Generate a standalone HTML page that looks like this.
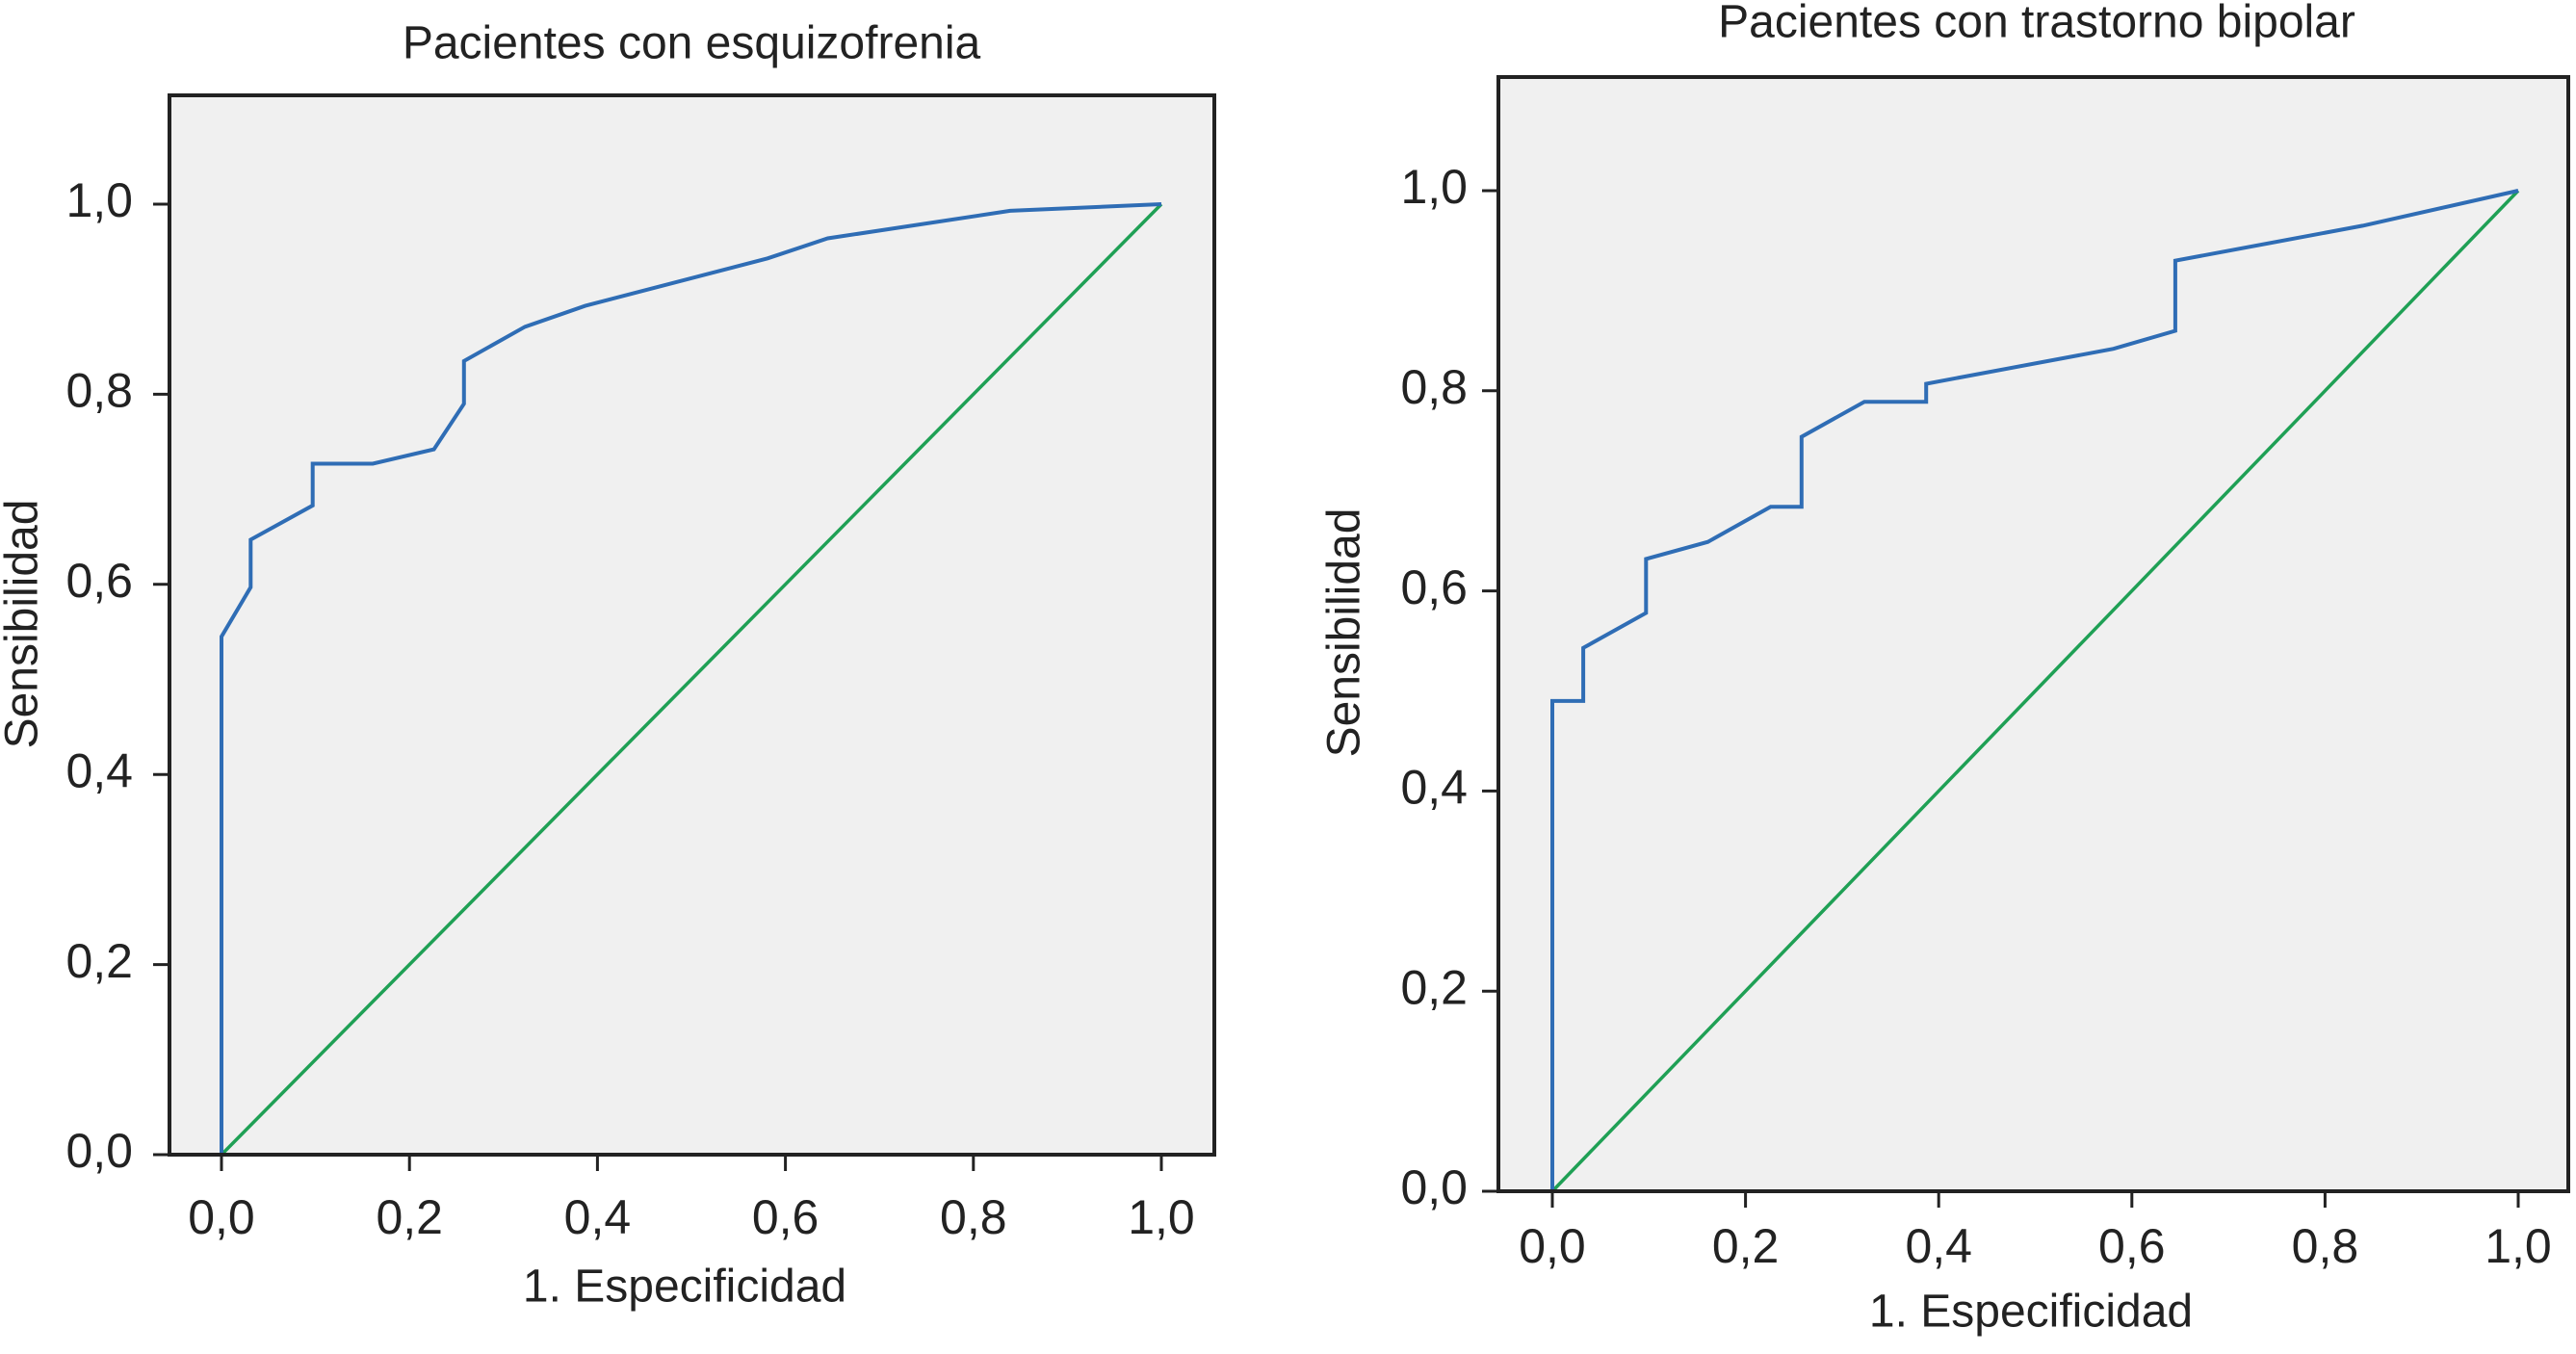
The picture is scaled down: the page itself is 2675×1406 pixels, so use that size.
<!DOCTYPE html>
<html><head><meta charset="utf-8"><style>
html,body{margin:0;padding:0;background:#fff;}
svg{display:block;font-family:"Liberation Sans",Arial,sans-serif;}
</style></head><body>
<svg id="svg" width="2675" height="1406" viewBox="0 0 2675 1406" xmlns="http://www.w3.org/2000/svg"></svg>
<script>
const ticks = [0, 0.2, 0.4, 0.6, 0.8, 1.0];
const tickLabels = ["0,0", "0,2", "0,4", "0,6", "0,8", "1,0"];
const schizoFPR = [0, 0, 0.031, 0.031, 0.097, 0.097, 0.161, 0.226, 0.258, 0.258, 0.323, 0.387, 0.581, 0.645, 0.839, 1];
const schizoTPR = [0, 0.545, 0.597, 0.647, 0.683, 0.727, 0.727, 0.742, 0.79, 0.835, 0.871, 0.893, 0.943, 0.964, 0.993, 1];
const bipolarFPR = [0, 0, 0.032, 0.032, 0.097, 0.097, 0.161, 0.226, 0.258, 0.258, 0.323, 0.387, 0.387, 0.581, 0.645, 0.645, 0.839, 1];
const bipolarTPR = [0, 0.49, 0.49, 0.543, 0.578, 0.632, 0.649, 0.684, 0.684, 0.754, 0.789, 0.789, 0.807, 0.842, 0.86, 0.93, 0.965, 1];
const refLine = [0, 1];

const NS = "http://www.w3.org/2000/svg";
const svg = document.getElementById('svg');
function mk(tag, attrs, parent) {
  const e = document.createElementNS(NS, tag);
  for (const k in attrs) e.setAttribute(k, attrs[k]);
  (parent || svg).appendChild(e);
  return e;
}
function panel(p) {
  const g = mk('g', {});
  
  
  const sx = v => p.x0 + v * (p.x1 - p.x0);
  const sy = v => p.y0 - v * (p.y0 - p.y1);
  const bg = mk('rect', {x: p.bx0, y: p.by0, width: p.bx1 - p.bx0, height: p.by1 - p.by0, fill: '#f0f0f0', stroke: 'none'}, g);
  
  
  const t = mk('text', {x: p.tx, y: p.ty, 'font-size': 48, 'text-anchor': 'middle', 'dominant-baseline': 'middle', fill: '#222'}, g);
  t.textContent = p.title;
  
  
  const ref = mk('line', {x1: sx(refLine[0]), y1: sy(refLine[0]), x2: sx(refLine[1]), y2: sy(refLine[1]), stroke: '#1fa055', 'stroke-width': 3.5}, g);
  
  
  const pts = p.fx.map((v, i) => sx(v).toFixed(1) + ',' + sy(p.fy[i]).toFixed(1)).join(' ');
  const roc = mk('polyline', {points: pts, fill: 'none', stroke: '#2f6db5', 'stroke-width': 4, 'stroke-linejoin': 'miter'}, g);
  
  
  const fr = mk('rect', {x: p.bx0, y: p.by0, width: p.bx1 - p.bx0, height: p.by1 - p.by0, fill: 'none', stroke: '#222', 'stroke-width': 4}, g);
  
  
  ticks.forEach((v, i) => {
    const xt = mk('line', {x1: sx(v), y1: p.by1, x2: sx(v), y2: p.by1 + 17, stroke: '#222', 'stroke-width': 3}, g);
    
    
    const xl = mk('text', {x: sx(v), y: p.xly, 'font-size': 50, 'text-anchor': 'middle', 'dominant-baseline': 'middle', fill: '#222'}, g);
    xl.textContent = tickLabels[i];
    
    
    const yt = mk('line', {x1: p.bx0 - 17, y1: sy(v), x2: p.bx0, y2: sy(v), stroke: '#222', 'stroke-width': 3}, g);
    
    
    const yl = mk('text', {x: p.ylx, y: sy(v), 'font-size': 50, 'text-anchor': 'end', 'dominant-baseline': 'middle', fill: '#222'}, g);
    yl.textContent = tickLabels[i];
    
    
  });
  const xa = mk('text', {x: p.xax, y: p.xay, 'font-size': 48, 'text-anchor': 'middle', 'dominant-baseline': 'middle', fill: '#222'}, g);
  xa.textContent = '1. Especificidad';
  
  
  const ya = mk('text', {x: 0, y: 0, 'font-size': 48, 'text-anchor': 'middle', 'dominant-baseline': 'middle', fill: '#222', transform: `translate(${p.yax},${p.yay}) rotate(-90)`}, g);
  ya.textContent = 'Sensibilidad';
  
  
}
panel({name: 'schizophrenia-panel', title: 'Pacientes con esquizofrenia', fx: schizoFPR, fy: schizoTPR,
  bx0: 176, bx1: 1261, by0: 99, by1: 1199, x0: 230, x1: 1206, y0: 1199, y1: 212,
  tx: 718, ty: 48, xly: 1268, ylx: 138, xax: 711, xay: 1339, yax: 26, yay: 648});
panel({name: 'bipolar-panel', title: 'Pacientes con trastorno bipolar', fx: bipolarFPR, fy: bipolarTPR,
  bx0: 1556, bx1: 2667, by0: 80, by1: 1237, x0: 1612, x1: 2615, y0: 1237, y1: 198,
  tx: 2115, ty: 26, xly: 1298, ylx: 1524, xax: 2109, xay: 1365, yax: 1399, yay: 657});
</script>
</body></html>
